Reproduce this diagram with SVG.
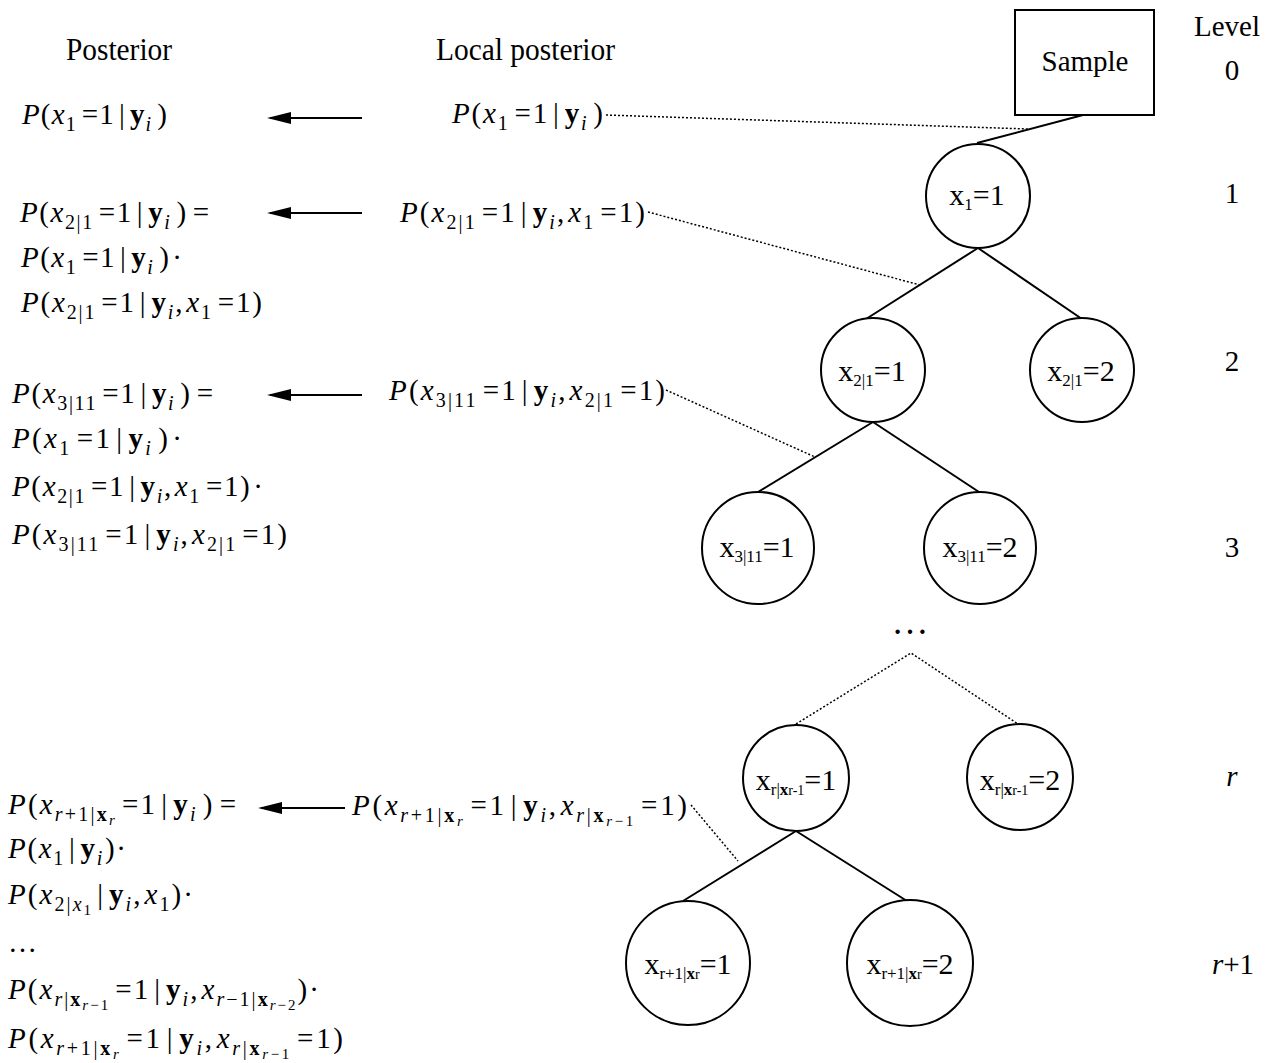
<svg xmlns="http://www.w3.org/2000/svg" width="1276" height="1063" viewBox="0 0 1276 1063">
<style>
.t{font-family:"Liberation Serif","Times New Roman",serif;font-size:29px;fill:#000}
.i{font-style:italic}
.b{font-weight:bold}
.s{font-size:20px}
.ss{font-size:15px}
.ns{font-size:17px}
.nss{font-size:14px}
.nt{font-size:30px}
.m{text-anchor:middle}
.ln{stroke:#000;stroke-width:2;fill:none}
.dt{stroke:#000;stroke-width:1.5;stroke-dasharray:2 2;fill:none}
.nd{fill:#fff;stroke:#000;stroke-width:2}
</style>
<defs>
<marker id="ah" markerUnits="userSpaceOnUse" markerWidth="24" markerHeight="12" refX="21" refY="6" orient="auto">
<path d="M0,0 L24,6 L0,12 z" fill="#000"/>
</marker>
</defs>
<rect width="1276" height="1063" fill="#fff"/>

<g id="headers">
<text class="t" x="66" y="60" textLength="106" lengthAdjust="spacingAndGlyphs" style="font-size:31px">Posterior</text>
<text class="t" x="436" y="60" textLength="179" lengthAdjust="spacingAndGlyphs" style="font-size:31px">Local posterior</text>
</g>

<g id="levels">
<text class="t m" x="1227" y="36">Level</text>
<text class="t m" x="1232" y="80">0</text>
<text class="t m" x="1232" y="203">1</text>
<text class="t m" x="1232" y="371">2</text>
<text class="t m" x="1232" y="557">3</text>
<text class="t m i" x="1232" y="786">r</text>
<text class="t m" x="1233" y="974"><tspan class="i">r</tspan>+1</text>
</g>

<g id="connectors">
<line class="ln" x1="1083" y1="115" x2="977" y2="143"/>
<line class="ln" x1="978" y1="248" x2="866" y2="319"/>
<line class="ln" x1="978" y1="248" x2="1082" y2="319"/>
<line class="ln" x1="873" y1="422" x2="758" y2="492"/>
<line class="ln" x1="873" y1="422" x2="979" y2="492"/>
<path class="dt" d="M796,724 L911,653 L1018,724"/>
<line class="ln" x1="796" y1="831" x2="683" y2="901"/>
<line class="ln" x1="796" y1="831" x2="907" y2="901"/>
<line class="dt" x1="606" y1="115" x2="1028" y2="129"/>
<line class="dt" x1="648" y1="212" x2="920" y2="285"/>
<line class="dt" x1="666" y1="390" x2="815" y2="457"/>
<line class="dt" x1="691" y1="805" x2="738" y2="861"/>
<line class="ln" x1="362" y1="118" x2="270" y2="118" marker-end="url(#ah)"/>
<line class="ln" x1="362" y1="213" x2="270" y2="213" marker-end="url(#ah)"/>
<line class="ln" x1="362" y1="395" x2="270" y2="395" marker-end="url(#ah)"/>
<line class="ln" x1="345" y1="808" x2="261" y2="808" marker-end="url(#ah)"/>
</g>

<g id="sample">
<rect class="nd" x="1015" y="10" width="139" height="105"/>
<text class="t m" x="1085" y="71">Sample</text>
</g>
<g id="n_x1">
<circle class="nd" cx="978" cy="196" r="52"/>
<text class="t m nt" x="977" y="205">x<tspan class="ns" dy="5">1</tspan><tspan dy="-5">=1</tspan></text>
</g>
<g id="n_x21_1">
<circle class="nd" cx="873" cy="370" r="52"/>
<text class="t m nt" x="872" y="381">x<tspan class="ns" dy="5">2|1</tspan><tspan dy="-5">=1</tspan></text>
</g>
<g id="n_x21_2">
<circle class="nd" cx="1082" cy="370" r="52"/>
<text class="t m nt" x="1081" y="381">x<tspan class="ns" dy="5">2|1</tspan><tspan dy="-5">=2</tspan></text>
</g>
<g id="n_x311_1">
<circle class="nd" cx="758" cy="548" r="56"/>
<text class="t m nt" x="757" y="557">x<tspan class="ns" dy="5">3|11</tspan><tspan dy="-5">=1</tspan></text>
</g>
<g id="n_x311_2">
<circle class="nd" cx="980" cy="548" r="56"/>
<text class="t m nt" x="980" y="557">x<tspan class="ns" dy="5">3|11</tspan><tspan dy="-5">=2</tspan></text>
</g>
<g id="ellipsis">
<text class="t m" x="910" y="634" style="font-size:37px">…</text>
</g>
<g id="n_xr_1">
<circle class="nd" cx="796" cy="778" r="53"/>
<text class="t m nt" x="796" y="790">x<tspan class="ns" dy="5">r|</tspan><tspan class="ns b">x</tspan><tspan class="nss">r-1</tspan><tspan dy="-5">=1</tspan></text>
</g>
<g id="n_xr_2">
<circle class="nd" cx="1020" cy="777" r="53"/>
<text class="t m nt" x="1020" y="790">x<tspan class="ns" dy="5">r|</tspan><tspan class="ns b">x</tspan><tspan class="nss">r-1</tspan><tspan dy="-5">=2</tspan></text>
</g>
<g id="n_xr1_1">
<circle class="nd" cx="688" cy="963" r="62"/>
<text class="t m nt" x="688" y="974">x<tspan class="ns" dy="5">r+1|</tspan><tspan class="ns b">x</tspan><tspan class="nss">r</tspan><tspan dy="-5">=1</tspan></text>
</g>
<g id="n_xr1_2">
<circle class="nd" cx="910" cy="963" r="63"/>
<text class="t m nt" x="910" y="974">x<tspan class="ns" dy="5">r+1|</tspan><tspan class="ns b">x</tspan><tspan class="nss">r</tspan><tspan dy="-5">=2</tspan></text>
</g>

<g id="local_posteriors">
<text class="t" x="452" y="123" textLength="151" lengthAdjust="spacing"><tspan class="i">P</tspan>(<tspan class="i">x</tspan><tspan class="s" dy="7">1</tspan><tspan dx="5" dy="-7">=1</tspan><tspan dx="4">|</tspan><tspan class="b" dx="4">y</tspan><tspan class="s i" dy="7">i</tspan><tspan dx="5" dy="-7">)</tspan></text>
<text class="t" x="400" y="222" textLength="245" lengthAdjust="spacing"><tspan class="i">P</tspan>(<tspan class="i">x</tspan><tspan class="s" dy="7">2|1</tspan><tspan dx="5" dy="-7">=1</tspan><tspan dx="4">|</tspan><tspan class="b" dx="4">y</tspan><tspan class="s i" dy="7">i</tspan><tspan dy="-7">,</tspan><tspan class="i" dx="2">x</tspan><tspan class="s" dy="7">1</tspan><tspan dx="5" dy="-7">=1)</tspan></text>
<text class="t" x="389" y="400" textLength="276" lengthAdjust="spacing"><tspan class="i">P</tspan>(<tspan class="i">x</tspan><tspan class="s" dy="7">3|11</tspan><tspan dx="5" dy="-7">=1</tspan><tspan dx="4">|</tspan><tspan class="b" dx="4">y</tspan><tspan class="s i" dy="7">i</tspan><tspan dy="-7">,</tspan><tspan class="i" dx="2">x</tspan><tspan class="s" dy="7">2|1</tspan><tspan dx="5" dy="-7">=1)</tspan></text>
<text class="t" x="352" y="815" textLength="335" lengthAdjust="spacing"><tspan class="i">P</tspan>(<tspan class="i">x</tspan><tspan class="s i" dy="7">r</tspan><tspan class="s">+1|</tspan><tspan class="s b">x</tspan><tspan class="ss i" dy="4">r</tspan><tspan dx="5" dy="-11">=1</tspan><tspan dx="4">|</tspan><tspan class="b" dx="4">y</tspan><tspan class="s i" dy="7">i</tspan><tspan dy="-7">,</tspan><tspan class="i" dx="2">x</tspan><tspan class="s i" dy="7">r</tspan><tspan class="s">|</tspan><tspan class="s b">x</tspan><tspan class="ss i" dy="4">r</tspan><tspan class="ss">−1</tspan><tspan dx="5" dy="-11">=1)</tspan></text>
</g>

<g id="posteriors">
<text class="t" x="22" y="124" textLength="145" lengthAdjust="spacing"><tspan class="i">P</tspan>(<tspan class="i">x</tspan><tspan class="s" dy="7">1</tspan><tspan dx="5" dy="-7">=1</tspan><tspan dx="4">|</tspan><tspan class="b" dx="4">y</tspan><tspan class="s i" dy="7">i</tspan><tspan dx="5" dy="-7">)</tspan></text>
<text class="t" x="20" y="222" textLength="189" lengthAdjust="spacing"><tspan class="i">P</tspan>(<tspan class="i">x</tspan><tspan class="s" dy="7">2|1</tspan><tspan dx="5" dy="-7">=1</tspan><tspan dx="4">|</tspan><tspan class="b" dx="4">y</tspan><tspan class="s i" dy="7">i</tspan><tspan dx="5" dy="-7">)</tspan><tspan dx="5">=</tspan></text>
<text class="t" x="21" y="267" textLength="161" lengthAdjust="spacing"><tspan class="i">P</tspan>(<tspan class="i">x</tspan><tspan class="s" dy="7">1</tspan><tspan dx="5" dy="-7">=1</tspan><tspan dx="4">|</tspan><tspan class="b" dx="4">y</tspan><tspan class="s i" dy="7">i</tspan><tspan dx="5" dy="-7">)</tspan><tspan dx="2">·</tspan></text>
<text class="t" x="21" y="312" textLength="241" lengthAdjust="spacing"><tspan class="i">P</tspan>(<tspan class="i">x</tspan><tspan class="s" dy="7">2|1</tspan><tspan dx="5" dy="-7">=1</tspan><tspan dx="4">|</tspan><tspan class="b" dx="4">y</tspan><tspan class="s i" dy="7">i</tspan><tspan dy="-7">,</tspan><tspan class="i" dx="2">x</tspan><tspan class="s" dy="7">1</tspan><tspan dx="5" dy="-7">=1)</tspan></text>
<text class="t" x="12" y="403" textLength="201" lengthAdjust="spacing"><tspan class="i">P</tspan>(<tspan class="i">x</tspan><tspan class="s" dy="7">3|11</tspan><tspan dx="5" dy="-7">=1</tspan><tspan dx="4">|</tspan><tspan class="b" dx="4">y</tspan><tspan class="s i" dy="7">i</tspan><tspan dx="5" dy="-7">)</tspan><tspan dx="5">=</tspan></text>
<text class="t" x="12" y="448" textLength="170" lengthAdjust="spacing"><tspan class="i">P</tspan>(<tspan class="i">x</tspan><tspan class="s" dy="7">1</tspan><tspan dx="5" dy="-7">=1</tspan><tspan dx="4">|</tspan><tspan class="b" dx="4">y</tspan><tspan class="s i" dy="7">i</tspan><tspan dx="5" dy="-7">)</tspan><tspan dx="2">·</tspan></text>
<text class="t" x="12" y="496" textLength="251" lengthAdjust="spacing"><tspan class="i">P</tspan>(<tspan class="i">x</tspan><tspan class="s" dy="7">2|1</tspan><tspan dx="5" dy="-7">=1</tspan><tspan dx="4">|</tspan><tspan class="b" dx="4">y</tspan><tspan class="s i" dy="7">i</tspan><tspan dy="-7">,</tspan><tspan class="i" dx="2">x</tspan><tspan class="s" dy="7">1</tspan><tspan dx="5" dy="-7">=1)</tspan><tspan dx="2">·</tspan></text>
<text class="t" x="12" y="544" textLength="275" lengthAdjust="spacing"><tspan class="i">P</tspan>(<tspan class="i">x</tspan><tspan class="s" dy="7">3|11</tspan><tspan dx="5" dy="-7">=1</tspan><tspan dx="4">|</tspan><tspan class="b" dx="4">y</tspan><tspan class="s i" dy="7">i</tspan><tspan dy="-7">,</tspan><tspan class="i" dx="2">x</tspan><tspan class="s" dy="7">2|1</tspan><tspan dx="5" dy="-7">=1)</tspan></text>
<text class="t" x="8" y="814" textLength="228" lengthAdjust="spacing"><tspan class="i">P</tspan>(<tspan class="i">x</tspan><tspan class="s i" dy="7">r</tspan><tspan class="s">+1|</tspan><tspan class="s b">x</tspan><tspan class="ss i" dy="4">r</tspan><tspan dx="5" dy="-11">=1</tspan><tspan dx="4">|</tspan><tspan class="b" dx="4">y</tspan><tspan class="s i" dy="7">i</tspan><tspan dx="5" dy="-7">)</tspan><tspan dx="5">=</tspan></text>
<text class="t" x="8" y="858" textLength="118" lengthAdjust="spacing"><tspan class="i">P</tspan>(<tspan class="i">x</tspan><tspan class="s" dy="7">1</tspan><tspan dx="4" dy="-7">|</tspan><tspan class="b" dx="4">y</tspan><tspan class="s i" dy="7">i</tspan><tspan dx="1" dy="-7">)·</tspan></text>
<text class="t" x="8" y="904" textLength="185" lengthAdjust="spacing"><tspan class="i">P</tspan>(<tspan class="i">x</tspan><tspan class="s" dy="7">2|</tspan><tspan class="s i">x</tspan><tspan class="ss" dy="4">1</tspan><tspan dx="4" dy="-11">|</tspan><tspan class="b" dx="4">y</tspan><tspan class="s i" dy="7">i</tspan><tspan dy="-7">,</tspan><tspan class="i" dx="2">x</tspan><tspan class="s" dy="7">1</tspan><tspan dy="-7">)·</tspan></text>
<text class="t" x="8" y="952">…</text>
<text class="t" x="8" y="999" textLength="311" lengthAdjust="spacing"><tspan class="i">P</tspan>(<tspan class="i">x</tspan><tspan class="s i" dy="7">r</tspan><tspan class="s">|</tspan><tspan class="s b">x</tspan><tspan class="ss i" dy="4">r</tspan><tspan class="ss">−1</tspan><tspan dx="5" dy="-11">=1</tspan><tspan dx="4">|</tspan><tspan class="b" dx="4">y</tspan><tspan class="s i" dy="7">i</tspan><tspan dy="-7">,</tspan><tspan class="i" dx="2">x</tspan><tspan class="s i" dy="7">r</tspan><tspan class="s">−1|</tspan><tspan class="s b">x</tspan><tspan class="ss i" dy="4">r</tspan><tspan class="ss">−2</tspan><tspan dy="-11">)·</tspan></text>
<text class="t" x="8" y="1048" textLength="335" lengthAdjust="spacing"><tspan class="i">P</tspan>(<tspan class="i">x</tspan><tspan class="s i" dy="7">r</tspan><tspan class="s">+1|</tspan><tspan class="s b">x</tspan><tspan class="ss i" dy="4">r</tspan><tspan dx="5" dy="-11">=1</tspan><tspan dx="4">|</tspan><tspan class="b" dx="4">y</tspan><tspan class="s i" dy="7">i</tspan><tspan dy="-7">,</tspan><tspan class="i" dx="2">x</tspan><tspan class="s i" dy="7">r</tspan><tspan class="s">|</tspan><tspan class="s b">x</tspan><tspan class="ss i" dy="4">r</tspan><tspan class="ss">−1</tspan><tspan dx="5" dy="-11">=1)</tspan></text>
</g>
</svg>
